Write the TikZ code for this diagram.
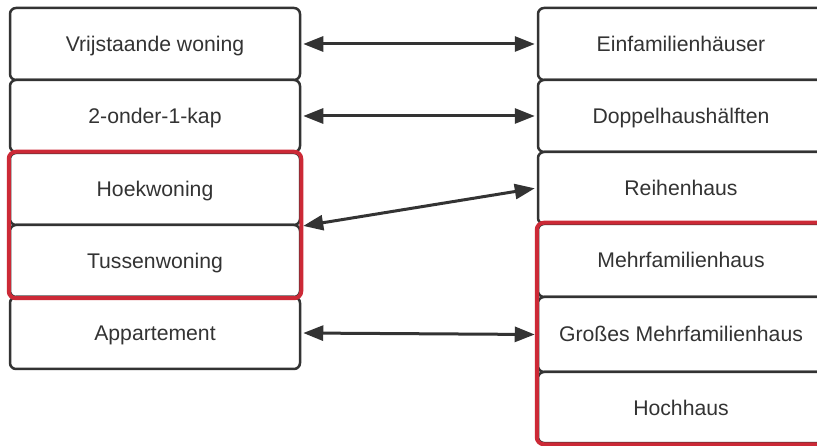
\documentclass[tikz,border=0pt]{standalone}
\usepackage{fontspec}
\setmainfont{Liberation Sans}
\usetikzlibrary{arrows.meta}
\definecolor{ink}{HTML}{333333}
\definecolor{redf}{RGB}{204,41,54}
\begin{document}
\begin{tikzpicture}[x=1pt,y=-1pt,
  box/.style={draw=ink,line width=2.5pt,rounded corners=6pt,fill=white,
    minimum width=290pt,minimum height=72pt,inner sep=0pt,text=ink,
    text height=15pt,text depth=0pt,
    font=\fontsize{21.2}{25}\selectfont},
  rbox/.style={box,minimum width=286pt},
  grp/.style={draw=redf,line width=4pt,rounded corners=7pt},
  conn/.style={draw=ink,line width=3pt,
    {Triangle[length=20pt,width=15pt]}-{Triangle[length=20pt,width=15pt]},
    shorten >=2pt,shorten <=2pt}]
\useasboundingbox (0,0) rectangle (817,446);
\clip (0,0) rectangle (817,446);
\fill[white] (0,0) rectangle (817,446);
% left column
\node[box] (vrij) at (155,44) {Vrijstaande woning};
\node[box] (tp) at (155,116) {2-onder-1-kap};
\node[box] (hoek) at (155,189) {Hoekwoning};
\node[box] (tussen) at (155,261) {Tussenwoning};
\node[box] (app) at (155,333) {Appartement};
% right column
\node[rbox] (ein) at (681,44) {Einfamilienhäuser};
\node[rbox] (dop) at (681,116) {Doppelhaushälften};
\node[rbox] (reih) at (681,188) {Reihenhaus};
\node[rbox,minimum height=73pt] (mehr) at (681,260.5) {Mehrfamilienhaus};
\node[rbox,minimum height=75pt] (gross) at (681,334.5) {Großes Mehrfamilienhaus};
\node[rbox,minimum height=71pt] (hoch) at (681,407.5) {Hochhaus};
% red groups
\draw[grp] (hoek.north west) rectangle (tussen.south east);
\draw[grp] (mehr.north west) rectangle (hoch.south east);
% connectors
\draw[conn] (vrij.east) -- (ein.west);
\draw[conn] (tp.east) -- (dop.west);
\draw[conn] (hoek.south east) -- (reih.west);
\draw[conn] (app.east) -- (gross.west);
\end{tikzpicture}
\end{document}
